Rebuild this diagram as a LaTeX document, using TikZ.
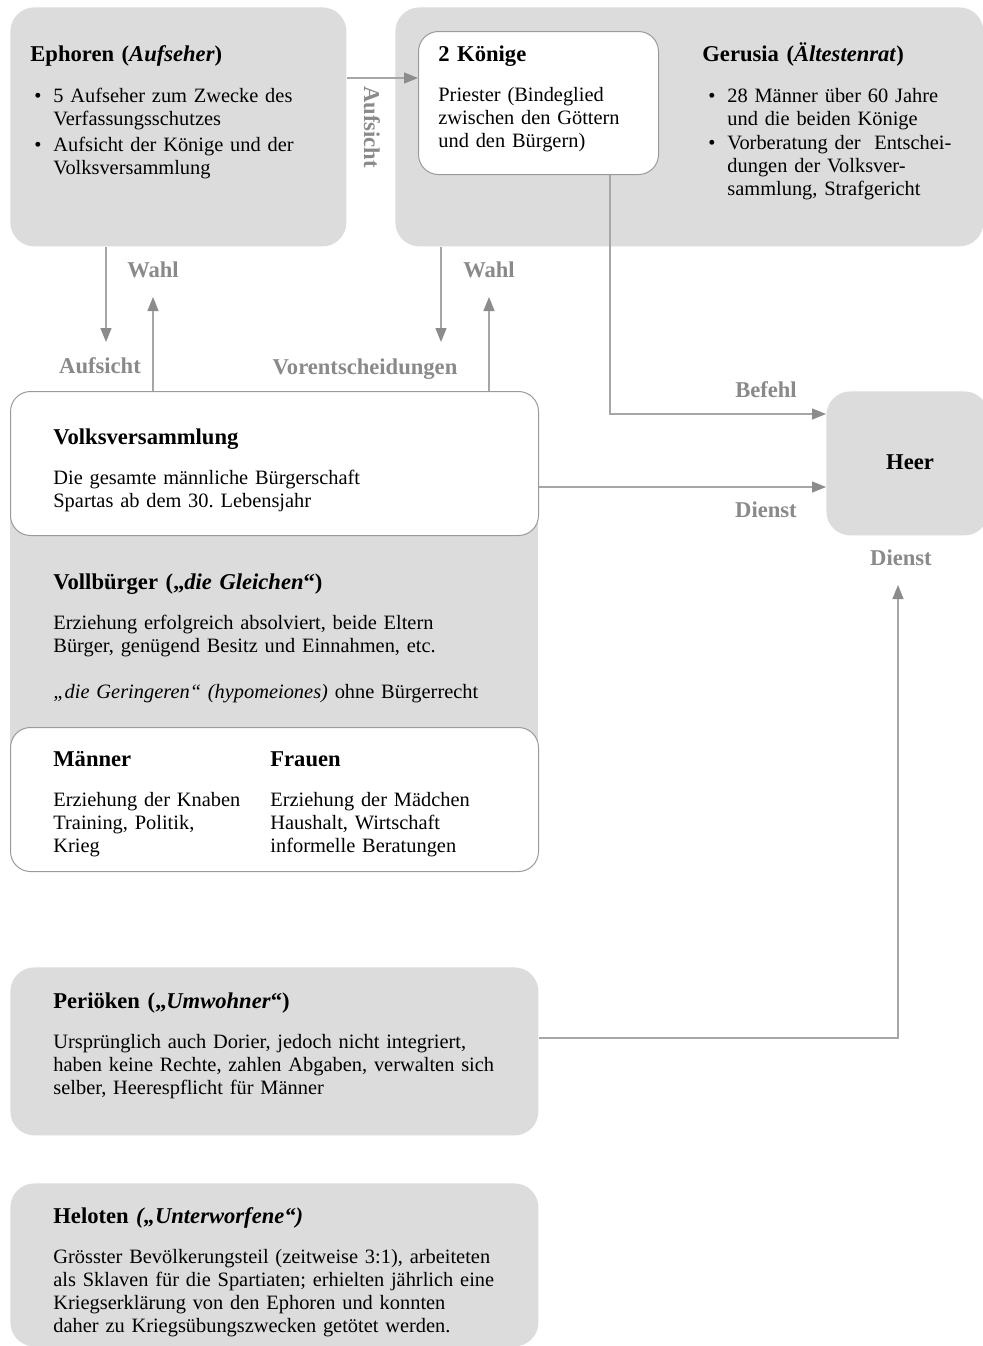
\documentclass[tikz,border=0pt]{standalone}
\usepackage{fontspec}
\setmainfont{Liberation Serif}
\usetikzlibrary{arrows.meta}
\definecolor{boxgray}{HTML}{DCDCDC}
\definecolor{linegray}{HTML}{A6A6A6}
\definecolor{tipgray}{HTML}{8C8C8C}
\definecolor{lblgray}{HTML}{8A8A8A}
\definecolor{edgegray}{HTML}{9A9A9A}
\newcommand{\bodyfont}{\fontsize{10.2}{11.5}\selectfont\frenchspacing}
\newcommand{\titlefont}{\fontsize{11.3}{13}\selectfont\bfseries}
\newcommand{\itm}{\llap{\textbullet\hspace{6pt}}}
\begin{document}
\begin{tikzpicture}[x=0.5pt,y=-0.5pt,
  graybox/.style={draw=none,fill=boxgray,rounded corners=12pt,inner sep=0pt,anchor=north west},
  whitebox/.style={draw=edgegray,line width=0.5pt,fill=white,rounded corners=10pt,inner sep=0pt,anchor=north west},
  ttl/.style={anchor=base west,inner sep=0pt,font=\titlefont,text width=#1,align=left},
  ttl/.default=200pt,
  bodytext/.style={anchor=base west,inner sep=0pt,font=\bodyfont,text width=#1,align=left},
  lbl/.style={inner sep=0pt,font=\titlefont,text=lblgray},
  conn/.style={draw=linegray,line width=0.6pt,-{Triangle[length=7pt,width=5.5pt,color=tipgray]}},
]
\useasboundingbox (0,0) rectangle (983,1346);
\fill[white] (0,0) rectangle (983,1346);

% boxes
\node[graybox, minimum width=168pt, minimum height=119.5pt] (ephoren) at (10,7) {};
\node[graybox, minimum width=294pt, minimum height=119.5pt] (gerusia) at (395,7) {};
\node[whitebox, minimum width=120pt, minimum height=71.5pt] (koenige) at (418,31) {};
\node[graybox, rounded corners=0pt, minimum width=264pt, minimum height=170pt] (vollb) at (10,460) {};
\node[whitebox, minimum width=264pt, minimum height=72pt] (volks) at (10,391) {};
\node[whitebox, minimum width=264pt, minimum height=72pt] (maenner) at (10,727) {};
\node[graybox, minimum width=81pt, minimum height=72pt] (heer) at (826,391) {};
\node[graybox, minimum width=264pt, minimum height=84pt] (perioeken) at (10,967) {};
\node[graybox, minimum width=264pt, minimum height=81.5pt] (heloten) at (10,1183) {};

% texts
\node[ttl] (ephT) at (30,61) {Ephoren (\textit{Aufseher})};
\node[bodytext=150pt] (ephB1) at (53,102) {\itm 5 Aufseher zum Zwecke des\\ Verfassungsschutzes};
\node[bodytext=150pt] (ephB2) at (53,151) {\itm Aufsicht der Könige und der\\ Volksversammlung};

\node[ttl] (koeT) at (438,61) {2 Könige};
\node[bodytext=110pt] (koeB) at (438,101) {Priester (Bindeglied\\ zwischen den Göttern\\ und den Bürgern)};

\node[ttl] (gerT) at (702,61) {Gerusia (\textit{Ältestenrat})};
\node[bodytext=130pt] (gerB1) at (727,102) {\itm 28 Männer über 60 Jahre\\ und die beiden Könige};
\node[bodytext=130pt] (gerB2) at (727,149) {\itm Vorberatung der\ \ Entschei-\\ dungen der Volksver-\\ sammlung, Strafgericht};

\node[ttl] (volT) at (53,444) {Volksversammlung};
\node[bodytext=220pt] (volB) at (53,484) {Die gesamte männliche Bürgerschaft\\ Spartas ab dem 30. Lebensjahr};

\node[ttl] (vbT) at (53,589) {Vollbürger („\textit{die Gleichen}“)};
\node[bodytext=230pt] (vbB) at (53,629) {Erziehung erfolgreich absolviert, beide Eltern\\ Bürger, genügend Besitz und Einnahmen, etc.};
\node[bodytext=230pt] (vbG) at (53,698) {\textit{„die Geringeren“ (hypomeiones)} ohne Bürgerrecht};

\node[ttl=100pt] (manT) at (53,766) {Männer};
\node[ttl=100pt] (frauT) at (270,766) {Frauen};
\node[bodytext=105pt] (manB) at (53,806) {Erziehung der Knaben\\ Training, Politik,\\ Krieg};
\node[bodytext=120pt] (frauB) at (270,806) {Erziehung der Mädchen\\ Haushalt, Wirtschaft\\ informelle Beratungen};

\node[inner sep=0pt, font=\titlefont] (heerT) at (910,462) {Heer};

\node[ttl] (perT) at (53,1008) {Periöken („\textit{Umwohner}“)};
\node[bodytext=230pt] (perB) at (53,1048) {Ursprünglich auch Dorier, jedoch nicht integriert,\\ haben keine Rechte, zahlen Abgaben, verwalten sich\\ selber, Heerespflicht für Männer};

\node[ttl] (helT) at (53,1223) {Heloten \textit{(„Unterworfene“)}};
\node[bodytext=230pt] (helB) at (53,1263) {Grösster Bevölkerungsteil (zeitweise 3:1), arbeiteten\\ als Sklaven für die Spartiaten; erhielten jährlich eine\\ Kriegserklärung von den Ephoren und konnten\\ daher zu Kriegsübungszwecken getötet werden.};

% labels
\node[lbl] (wahl1) at (153,270) {Wahl};
\node[lbl] (wahl2) at (489,270) {Wahl};
\node[lbl] (aufs1) at (100,366) {Aufsicht};
\node[lbl] (vorent) at (365,369) {Vorentscheidungen};
\node[lbl] (befehl) at (766,390) {Befehl};
\node[lbl] (dienst1) at (766,510) {Dienst};
\node[lbl] (dienst2) at (901,558) {Dienst};
\node[lbl, rotate=-90] (aufs2) at (372,127) {Aufsicht};

% connectors
\coordinate (ya) at (0,78);
\draw[conn] (ephoren.east |- ya) -- (koenige.west |- ya);
\coordinate (c1) at (106,342);
\draw[conn] (ephoren.south -| c1) -- (c1);
\coordinate (c2) at (153,297);
\draw[conn] (volks.north -| c2) -- (c2);
\coordinate (c3) at (441,342);
\draw[conn] (gerusia.south -| c3) -- (c3);
\coordinate (c4) at (489,297);
\draw[conn] (volks.north -| c4) -- (c4);
\coordinate (kb) at (610,414);
\draw[conn] (koenige.south -| kb) -- (kb) -- (heer.west |- kb);
\coordinate (yd) at (0,487);
\draw[conn] (volks.east |- yd) -- (heer.west |- yd);
\coordinate (pd) at (898,1038);
\coordinate (pt) at (898,585);
\draw[conn] (perioeken.east |- pd) -- (pd) -- (pt);
\end{tikzpicture}
\end{document}
